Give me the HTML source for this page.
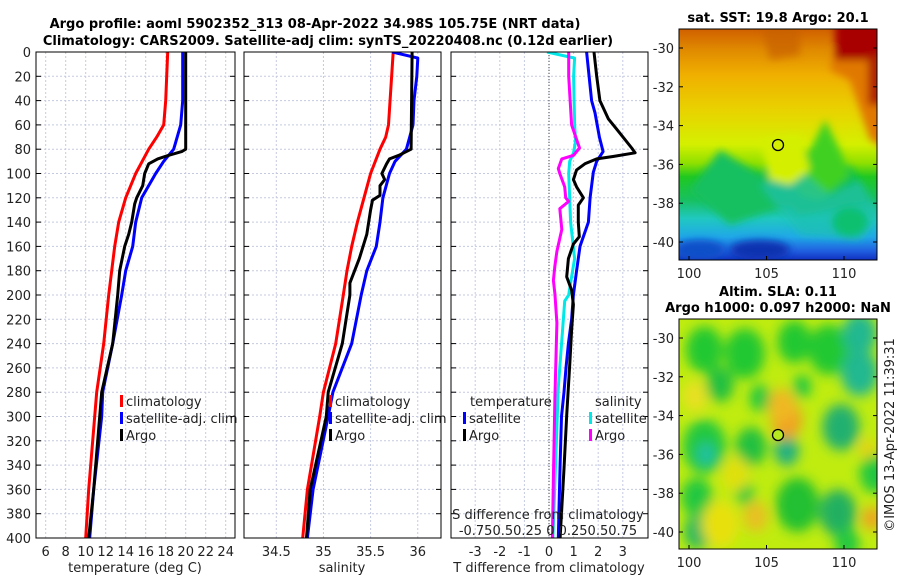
<!DOCTYPE html>
<html><head><meta charset="utf-8">
<style>
html,body{margin:0;padding:0;background:#fff;}
svg{display:block;font-family:"DejaVu Sans","Liberation Sans",sans-serif;}
</style></head>
<body>
<svg id="fig" width="900" height="580" viewBox="0 0 900 580" xmlns="http://www.w3.org/2000/svg">
<defs>
<filter id="blur4" x="-20%" y="-20%" width="140%" height="140%"><feGaussianBlur stdDeviation="4"/></filter>
<filter id="blur6" x="-50%" y="-50%" width="200%" height="200%"><feGaussianBlur stdDeviation="6"/></filter>
<clipPath id="clipM1"><rect x="679" y="29" width="198" height="231"/></clipPath>
<clipPath id="clipM2"><rect x="679" y="319" width="198" height="230"/></clipPath>
<clipPath id="clipP1"><rect x="36" y="52" width="199" height="486"/></clipPath>
<clipPath id="clipP2"><rect x="244" y="52" width="197" height="486"/></clipPath>
<clipPath id="clipP3"><rect x="451" y="52" width="197" height="486"/></clipPath>
<linearGradient id="sstGrad" x1="0" y1="0" x2="0" y2="1">
<stop offset="0" stop-color="#d06000"/>
<stop offset="0.09" stop-color="#e08a00"/>
<stop offset="0.2" stop-color="#f0b000"/>
<stop offset="0.36" stop-color="#e8d400"/>
<stop offset="0.5" stop-color="#d4f000"/>
<stop offset="0.58" stop-color="#90e000"/>
<stop offset="0.64" stop-color="#20c820"/>
<stop offset="0.74" stop-color="#18c060"/>
<stop offset="0.82" stop-color="#20c8c0"/>
<stop offset="0.9" stop-color="#20a8e8"/>
<stop offset="0.96" stop-color="#2060e0"/>
<stop offset="1" stop-color="#1030c0"/>
</linearGradient>
</defs>

<text x="315" y="28" text-anchor="middle" font-size="13" font-weight="bold">Argo profile: aoml 5902352_313 08-Apr-2022 34.98S 105.75E (NRT data)</text>
<text x="328" y="45" text-anchor="middle" font-size="13" font-weight="bold">Climatology: CARS2009. Satellite-adj clim: synTS_20220408.nc (0.12d earlier)</text>

<g id="panels"></g>

<!-- SST map -->
<g>
<g clip-path="url(#clipM1)">
<rect x="679" y="29" width="198" height="231" fill="url(#sstGrad)"/>
<g filter="url(#blur4)">
<polygon points="855,20 890,20 890,150 870,140 860,110 850,80 830,70 835,45" fill="#e07800"/>
<rect x="835" y="20" width="50" height="40" fill="#a80000"/>
<rect x="868" y="55" width="15" height="50" fill="#b02000"/>
<polygon points="760,20 800,20 800,55 770,60" fill="#c86000" opacity="0.7"/>
<polygon points="690,190 720,150 760,175 790,150 800,200 730,225" fill="#18c060"/>
<polygon points="760,178 800,160 820,195 850,165 870,200 800,215" fill="#10c050"/>
<polygon points="785,160 810,150 825,120 840,150 850,175 820,200 800,195" fill="#40d020"/>
<polygon points="760,185 800,170 830,195 860,180 880,215 860,240 800,235" fill="#20c0b0" opacity="0.7"/>
<ellipse cx="850" cy="222" rx="18" ry="15" fill="#10c070"/>
<ellipse cx="760" cy="250" rx="30" ry="10" fill="#0830b0"/>
<ellipse cx="700" cy="250" rx="25" ry="10" fill="#1050c8"/>
<polygon points="760,140 800,135 810,170 790,185 770,180" fill="#d4f000"/>
</g>
</g>
<rect x="679" y="29" width="198" height="231" fill="none" stroke="#000" stroke-width="1"/>
<ellipse cx="778" cy="145" rx="5.5" ry="5.5" fill="none" stroke="#000" stroke-width="1.3"/>
<text x="778" y="22" text-anchor="middle" font-size="13" font-weight="bold">sat. SST: 19.8 Argo: 20.1</text>
</g>

<!-- SLA map -->
<g>
<g clip-path="url(#clipM2)">
<rect x="679" y="319" width="198" height="230" fill="#c0ec10"/>
<g id="slaBlobs" filter="url(#blur6)"></g>
</g>
<rect x="679" y="319" width="198" height="230" fill="none" stroke="#000" stroke-width="1"/>
<ellipse cx="778" cy="435" rx="5.5" ry="5.5" fill="#b8e820" stroke="#000" stroke-width="1.3"/>
<text x="778" y="296" text-anchor="middle" font-size="13" font-weight="bold">Altim. SLA: 0.11</text>
<text x="778" y="312" text-anchor="middle" font-size="13" font-weight="bold">Argo h1000: 0.097 h2000: NaN</text>
</g>
<g id="mapAxes"></g>
<text transform="translate(894,435) rotate(-90)" text-anchor="middle" font-size="13" fill="#222">©IMOS 13-Apr-2022 11:39:31</text>
</svg>

<script>
// ---------- data ----------
const depthTicks = [0,20,40,60,80,100,120,140,160,180,200,220,240,260,280,300,320,340,360,380,400];
const tempTicks = [6,8,10,12,14,16,18,20,22,24];
const salTicks = [34.5,35,35.5,36];
const salTickLabels = ["34.5","35","35.5","36"];
const tdiffTicks = [-3,-2,-1,0,1,2,3];

const climTempDepth = [0,40,60,70,80,100,120,140,160,180,200,240,280,300,360,400];
const climTempVal   = [18.2,18.0,17.8,17.1,16.3,15.0,14.0,13.3,12.9,12.6,12.3,11.8,11.1,10.9,10.3,10.0];
const satTempDepth  = [0,40,60,80,90,100,120,140,160,180,200,240,280,300,360,400];
const satTempVal    = [19.7,19.7,19.5,18.8,17.8,17.0,15.6,15.0,14.7,14.0,13.6,12.7,11.7,11.6,10.8,10.4];
const argoTempDepth = [0,80,82,85,88,92,100,110,120,125,140,150,160,180,200,240,280,300,360,400];
const argoTempVal   = [20.0,20.0,19.6,18.3,17.2,16.3,15.9,15.7,15.1,14.9,14.6,14.3,13.9,13.4,13.2,12.7,11.6,11.4,10.8,10.3];

const climSalDepth = [0,60,70,80,100,120,140,160,180,200,240,280,300,360,400];
const climSalVal   = [35.74,35.69,35.66,35.60,35.50,35.43,35.36,35.30,35.25,35.21,35.13,35.00,34.96,34.83,34.78];
const satSalDepth  = [0,5,20,40,60,80,90,100,120,140,160,180,200,240,280,300,360,400];
const satSalVal    = [35.73,36.00,35.99,35.96,35.95,35.88,35.76,35.70,35.63,35.60,35.56,35.46,35.40,35.30,35.10,35.05,34.89,34.83];
const argoSalDepth = [0,80,85,88,92,100,105,110,118,122,130,150,170,190,200,240,280,300,360,400];
const argoSalVal   = [35.94,35.93,35.80,35.70,35.67,35.62,35.65,35.60,35.60,35.52,35.50,35.46,35.38,35.28,35.28,35.20,35.05,35.03,34.86,34.82];

const tdSatDepth = [0,20,40,50,70,82,90,99,120,140,160,180,200,220,240,260,280,300,340,400];
const tdSatVal   = [1.53,1.63,1.73,1.87,2.05,2.2,1.94,1.8,1.67,1.6,1.26,1.12,0.99,0.92,0.79,0.69,0.61,0.51,0.45,0.38];
const tdArgoDepth = [0,20,40,55,67,79,83,86,88,92,97,105,111,120,126,140,152,158,170,185,196,208,229,255,299,343,400];
const tdArgoVal   = [1.83,1.94,2.07,2.41,2.89,3.36,3.5,2.6,1.94,1.46,1.12,0.99,1.12,1.4,1.19,1.19,1.23,0.99,0.79,0.72,0.92,0.99,0.92,0.85,0.72,0.61,0.45];
const sdSatDepth = [0,5,20,60,73,83,90,100,140,170,190,200,205,243,276,320,400];
const sdSatVal   = [-0.02,0.26,0.25,0.26,0.27,0.25,0.21,0.20,0.22,0.26,0.22,0.20,0.16,0.125,0.095,0.075,0.04];
const sdArgoDepth = [0,20,60,79,85,88,96,100,111,120,123,129,146,164,176,188,199,223,285,350,400];
const sdArgoVal   = [0.20,0.20,0.23,0.31,0.25,0.13,0.095,0.11,0.16,0.17,0.20,0.11,0.13,0.08,0.06,0.045,0.06,0.08,0.06,0.045,0.035];

// ---------- axes ----------
const yTop = 52, yBot = 538;
const yScale = d => yTop + d * (yBot - yTop) / 400;
const xTemp = t => 45.7 + (t - 6) * 10;
const xSal = s => 276.3 + (s - 34.5) * 94.3;
const xTd = t => 549 + t * 24.6;
const xSd = s => 549 + s * 4 * 24.6;

const NS = "http://www.w3.org/2000/svg";
const root = document.getElementById("panels");
function mk(tag, attrs, parent){const e=document.createElementNS(NS,tag);for(const k in attrs)e.setAttribute(k,attrs[k]);(parent||root).appendChild(e);return e;}

const panels = [
 {x:36,w:199,name:"temperature",clip:"clipP1"},
 {x:244,w:197,name:"salinity",clip:"clipP2"},
 {x:451,w:197,name:"difference",clip:"clipP3"}
];
const gridV = [tempTicks.map(xTemp), salTicks.map(xSal), tdiffTicks.map(xTd)];

panels.forEach((p,i)=>{
  const g = mk("g",{});
  
  
  depthTicks.forEach(d=>{
    const y=yScale(d);
    const l=mk("line",{x1:p.x,x2:p.x+p.w,y1:y,y2:y,stroke:"#c5cae0","stroke-width":1,"stroke-dasharray":"2,2"},g);
    
    
    mk("line",{x1:p.x,x2:p.x+5,y1:y,y2:y,stroke:"#000"},g);
    mk("line",{x1:p.x+p.w-5,x2:p.x+p.w,y1:y,y2:y,stroke:"#000"},g);
  });
  gridV[i].forEach(x=>{
    const l=mk("line",{x1:x,x2:x,y1:yTop,y2:yBot,stroke:"#c5cae0","stroke-width":1,"stroke-dasharray":"2,2"},g);
    
    
  });
});
// zero line in diff panel
const zl = mk("line",{x1:xTd(0),x2:xTd(0),y1:yTop,y2:yBot,stroke:"#444","stroke-width":1,"stroke-dasharray":"1,2"});



function series(depths, vals, xf, color, clip, name){
  const pts = depths.map((d,k)=>xf(vals[k]).toFixed(1)+","+yScale(d).toFixed(1)).join(" ");
  const pl = mk("polyline",{points:pts,fill:"none",stroke:color,"stroke-width":3,"stroke-linejoin":"round","clip-path":"url(#"+clip+")"});
  
  
}
series(climTempDepth, climTempVal, xTemp, "#ff0000", "clipP1", "climatology-temperature-line");
series(satTempDepth, satTempVal, xTemp, "#0000ff", "clipP1", "satellite-temperature-line");
series(argoTempDepth, argoTempVal, xTemp, "#000000", "clipP1", "argo-temperature-line");
series(climSalDepth, climSalVal, xSal, "#ff0000", "clipP2", "climatology-salinity-line");
series(satSalDepth, satSalVal, xSal, "#0000ff", "clipP2", "satellite-salinity-line");
series(argoSalDepth, argoSalVal, xSal, "#000000", "clipP2", "argo-salinity-line");
series(sdSatDepth, sdSatVal, xSd, "#00e8e8", "clipP3", "satellite-salinity-diff-line");
series(sdArgoDepth, sdArgoVal, xSd, "#ff00ff", "clipP3", "argo-salinity-diff-line");
series(tdSatDepth, tdSatVal, xTd, "#0000ff", "clipP3", "satellite-temperature-diff-line");
series(tdArgoDepth, tdArgoVal, xTd, "#000000", "clipP3", "argo-temperature-diff-line");

panels.forEach(p=>{
  const r=mk("rect",{x:p.x,y:yTop,width:p.w,height:yBot-yTop,fill:"none",stroke:"#000","stroke-width":1});
  
  
});

// tick labels
depthTicks.forEach(d=>{
  const t=mk("text",{x:31,y:yScale(d)+5,"text-anchor":"end","font-size":13,fill:"#222"});
  t.textContent=d;
  
  
});
function xlabels(ticks, labels, xf){
  ticks.forEach((v,k)=>{
    const t=mk("text",{x:xf(v),y:556,"text-anchor":"middle","font-size":13,fill:"#222"});
    t.textContent=labels[k];
    
    
  });
}
xlabels(tempTicks, tempTicks.map(String), xTemp);
xlabels(salTicks, salTickLabels, xSal);
xlabels(tdiffTicks, tdiffTicks.map(String), xTd);

function txt(x,y,s,name,anchor,size){
  const t=mk("text",{x:x,y:y,"text-anchor":anchor||"start","font-size":size||13,fill:"#222"});
  t.textContent=s;
  
  
  return t;
}
txt(135,572,"temperature (deg C)","temperature-axis-title","middle");
txt(342,572,"salinity","salinity-axis-title","middle");
txt(549,572,"T difference from climatology","tdiff-axis-title","middle");
txt(548,519,"S difference from climatology","sdiff-axis-title","middle");
txt(548,535,"-0.750.50.25 0 0.250.50.75","sdiff-tick-labels","middle");

function legendEntry(x,y,color,label,name){
  const m=mk("rect",{x:x,y:y-11,width:3,height:12,fill:color});
  
  
  txt(x+6,y,label,name);
}
legendEntry(120,406,"#ff0000","climatology","legend-climatology-temp");
legendEntry(120,423,"#0000ff","satellite-adj. clim","legend-satellite-temp");
legendEntry(120,440,"#000000","Argo","legend-argo-temp");
legendEntry(329,406,"#ff0000","climatology","legend-climatology-sal");
legendEntry(329,423,"#0000ff","satellite-adj. clim","legend-satellite-sal");
legendEntry(329,440,"#000000","Argo","legend-argo-sal");
txt(470,406,"temperature","legend-temperature-heading");
legendEntry(463,423,"#0000ff","satellite","legend-tdiff-satellite");
legendEntry(463,440,"#000000","Argo","legend-tdiff-argo");
txt(595,406,"salinity","legend-salinity-heading");
legendEntry(589,423,"#00e8e8","satellite","legend-sdiff-satellite");
legendEntry(589,440,"#ff00ff","Argo","legend-sdiff-argo");

// ---------- map axes ----------
const mapLonTicks = [100,105,110];
const mapLatTicks = [-30,-32,-34,-36,-38,-40];
const lonX = lon => 689 + (lon - 100) * 15.5;
const lat1Y = lat => 48 + (-30 - lat) * 19.4;
const lat2Y = lat => 338 + (-30 - lat) * 19.4;
const ma = document.getElementById("mapAxes");
[lat1Y, lat2Y].forEach((yf,mi)=>{
  mapLatTicks.forEach(l=>{
    const y=yf(l);
    mk("line",{x1:679,x2:683,y1:y,y2:y,stroke:"#000"},ma);
    mk("line",{x1:873,x2:877,y1:y,y2:y,stroke:"#000"},ma);
    const t=mk("text",{x:674,y:y+5,"text-anchor":"end","font-size":13,fill:"#222"},ma);
    t.textContent=l;
    
    
  });
  const base = mi===0?260:549;
  mapLonTicks.forEach(l=>{
    const x=lonX(l);
    mk("line",{x1:x,x2:x,y1:base,y2:base-4,stroke:"#000"},ma);
    const t=mk("text",{x:x,y:base+18,"text-anchor":"middle","font-size":13,fill:"#222"},ma);
    t.textContent=l;
    
    
  });
});

// SLA map blobs [lon, lat, radius(deg), colour]
const slaBlobs = [
 [101,-30.6,1.2,"#20c830"],[103.6,-30.8,1.3,"#20c830"],[106.8,-30.2,1.1,"#20c830"],[109,-30.6,1.3,"#20c830"],[111,-29.8,1.1,"#20b890"],
 [102,-32.4,0.9,"#20c040"],[104.6,-33.1,0.7,"#20c840"],[107.3,-32.5,0.6,"#20c840"],[111,-31.8,1.2,"#20b890"],
 [101,-35.6,1.4,"#20c840"],[101.1,-36,0.6,"#20c0a0"],[104,-35.6,1.0,"#20c040"],[106.3,-35.8,0.8,"#20b080"],[109.8,-34.6,1.2,"#20b070"],
 [112,-37,1.0,"#20c840"],[100.5,-38.2,1.0,"#20c840"],[103.6,-38,0.6,"#20c840"],[107,-38.6,1.4,"#20c030"],[109.6,-39,1.2,"#20b060"],
 [100.6,-40,0.9,"#20b860"],[110.2,-40.6,0.8,"#20c840"],
 [106.3,-34.2,1.0,"#f0a020"],[106,-33.5,0.9,"#f0b820"],[100.4,-33,0.8,"#e8e020"],[102,-39.6,1.2,"#e8e010"],[104.3,-39.2,0.8,"#e8c020"],[111.8,-39.3,0.6,"#f0a020"],[103,-37,0.9,"#e0e010"],[111.5,-35.7,0.5,"#e8d010"]
];
const sg = document.getElementById("slaBlobs");
slaBlobs.forEach(b=>{
  const c=mk("ellipse",{cx:lonX(b[0]),cy:lat2Y(b[1]),rx:b[2]*15.5,ry:b[2]*19.4,fill:b[3]},sg);
  
  
});
</script>
</body></html>
